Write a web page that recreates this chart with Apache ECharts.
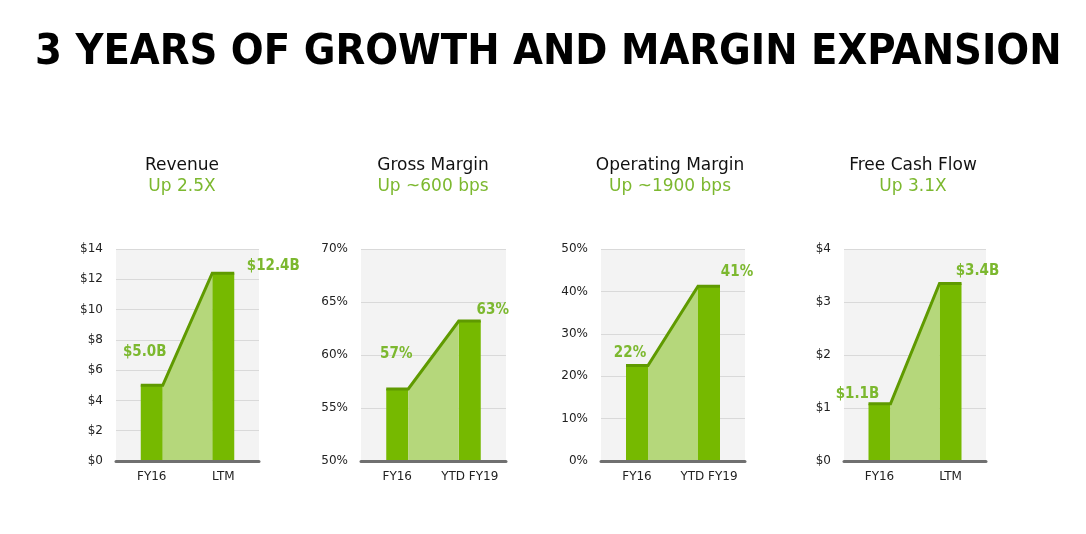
<!doctype html>
<html>
<head>
<meta charset="utf-8">
<title>3 Years of Growth and Margin Expansion</title>
<script src="https://cdn.jsdelivr.net/npm/echarts@6/dist/echarts.min.js"></script>
<style>
  html, body { margin: 0; padding: 0; background: #fff; }
  #chart { width: 1086px; height: 534px; }
</style>
</head>
<body>
<div id="chart"></div>
<script>
// ---- data ----
var mainTitle = '3 YEARS OF GROWTH AND MARGIN EXPANSION';
var panelTitles = ['Revenue', 'Gross Margin', 'Operating Margin', 'Free Cash Flow'];
var panelSubtitles = ['Up 2.5X', 'Up ~600 bps', 'Up ~1900 bps', 'Up 3.1X'];

var revenueCats = ['FY16', 'LTM'];
var revenueValues = [5.0, 12.4];
var revenueLabels = ['$5.0B', '$12.4B'];
var revenueAxis = [0, 14, 2];

var grossCats = ['FY16', 'YTD FY19'];
var grossValues = [56.8, 63.2];
var grossLabels = ['57%', '63%'];
var grossAxis = [50, 70, 5];

var opCats = ['FY16', 'YTD FY19'];
var opValues = [22.5, 41.2];
var opLabels = ['22%', '41%'];
var opAxis = [0, 50, 10];

var fcfCats = ['FY16', 'LTM'];
var fcfValues = [1.08, 3.35];
var fcfLabels = ['$1.1B', '$3.4B'];
var fcfAxis = [0, 4, 1];

// ---- layout ----
var FONT_NARROW = "'DejaVu Sans Condensed', 'DejaVu Sans', sans-serif";
var FONT = "'DejaVu Sans', sans-serif";
var GREEN = '#76b900';
var LIGHT_GREEN = '#b5d77b';
var DARK_GREEN = '#5f9a00';
var LABEL_GREEN = '#7cb82f';
var BAR_W = 22;
var gridLefts = [116, 361, 601, 844];
var gridWidths = [143, 145, 144, 142];
var panelCenters = [182, 433, 670, 913];
var labelOffsets = [
  [[-7, -33], [50, -7]],
  [[-1, -35], [23, -11]],
  [[-7, -12], [28, -14]],
  [[-22, -10], [27, -12]]
];

var panels = [
  { cats: revenueCats, values: revenueValues, labels: revenueLabels, axis: revenueAxis, fmt: function (v) { return '$' + v; } },
  { cats: grossCats, values: grossValues, labels: grossLabels, axis: grossAxis, fmt: function (v) { return v + '%'; } },
  { cats: opCats, values: opValues, labels: opLabels, axis: opAxis, fmt: function (v) { return v + '%'; } },
  { cats: fcfCats, values: fcfValues, labels: fcfLabels, axis: fcfAxis, fmt: function (v) { return '$' + v; } }
];

// light green slope between the two bars, with a dark line over the bar tops
function renderConnector(params, api) {
  var p0 = api.coord([api.value(0), api.value(1)]);
  var p1 = api.coord([api.value(2), api.value(3)]);
  var base = params.coordSys.y + params.coordSys.height;
  var h = BAR_W / 2;
  return {
    type: 'group',
    children: [
      {
        type: 'polygon',
        shape: { points: [[p0[0] + h, p0[1]], [p1[0] - h, p1[1]], [p1[0] - h, base], [p0[0] + h, base]] },
        style: { fill: LIGHT_GREEN }
      },
      {
        type: 'polyline',
        shape: { points: [[p0[0] - h, p0[1]], [p0[0] + h, p0[1]], [p1[0] - h, p1[1]], [p1[0] + h, p1[1]]] },
        style: { stroke: DARK_GREEN, lineWidth: 3, fill: null, lineJoin: 'miter' }
      }
    ]
  };
}

var titles = [{
  text: mainTitle,
  left: 35,
  top: 31,
  padding: 0,
  textStyle: { fontSize: 43, fontWeight: 'bold', color: '#000', fontFamily: FONT_NARROW }
}];
panelTitles.forEach(function (t, i) {
  titles.push({
    text: t,
    subtext: panelSubtitles[i],
    left: panelCenters[i],
    top: 157,
    textAlign: 'center',
    padding: 0,
    itemGap: 4,
    textStyle: { fontSize: 17, fontWeight: 'normal', color: '#111', fontFamily: FONT },
    subtextStyle: { fontSize: 17, color: LABEL_GREEN, fontFamily: FONT }
  });
});

var grids = [], xAxes = [], yAxes = [], series = [];
panels.forEach(function (p, i) {
  grids.push({
    left: gridLefts[i], top: 249, width: gridWidths[i], height: 212,
    show: true, backgroundColor: '#f3f3f3', borderWidth: 0
  });
  xAxes.push({
    type: 'category', gridIndex: i, data: p.cats, z: 10,
    axisLine: { lineStyle: { color: '#707070', width: 3 } },
    axisTick: { show: false },
    axisLabel: { color: '#222', fontSize: 12, margin: 10, interval: 0, fontFamily: FONT }
  });
  yAxes.push({
    type: 'value', gridIndex: i,
    min: p.axis[0], max: p.axis[1], interval: p.axis[2],
    axisLine: { show: false },
    axisTick: { show: false },
    splitLine: { lineStyle: { color: '#d9d9d9', width: 1 } },
    axisLabel: { color: '#222', fontSize: 12, margin: 13, fontFamily: FONT, formatter: p.fmt }
  });
  series.push({
    type: 'bar', xAxisIndex: i, yAxisIndex: i, barWidth: BAR_W, z: 2,
    itemStyle: { color: GREEN },
    data: p.values.map(function (v, j) {
      return { value: v, label: { offset: labelOffsets[i][j] } };
    }),
    label: {
      show: true, position: 'top', distance: 0, verticalAlign: 'middle', align: 'center',
      color: LABEL_GREEN, fontWeight: 'bold', fontSize: 15, fontFamily: FONT_NARROW,
      formatter: function (params) { return p.labels[params.dataIndex]; }
    }
  });
  series.push({
    type: 'custom', xAxisIndex: i, yAxisIndex: i, z: 3, silent: true,
    data: [[0, p.values[0], 1, p.values[1]]],
    encode: { x: [0, 2], y: [1, 3] },
    renderItem: renderConnector
  });
});

var myChart = echarts.init(document.getElementById('chart'));
myChart.setOption({
  animation: false,
  title: titles,
  grid: grids,
  xAxis: xAxes,
  yAxis: yAxes,
  series: series
});
</script>
</body>
</html>
